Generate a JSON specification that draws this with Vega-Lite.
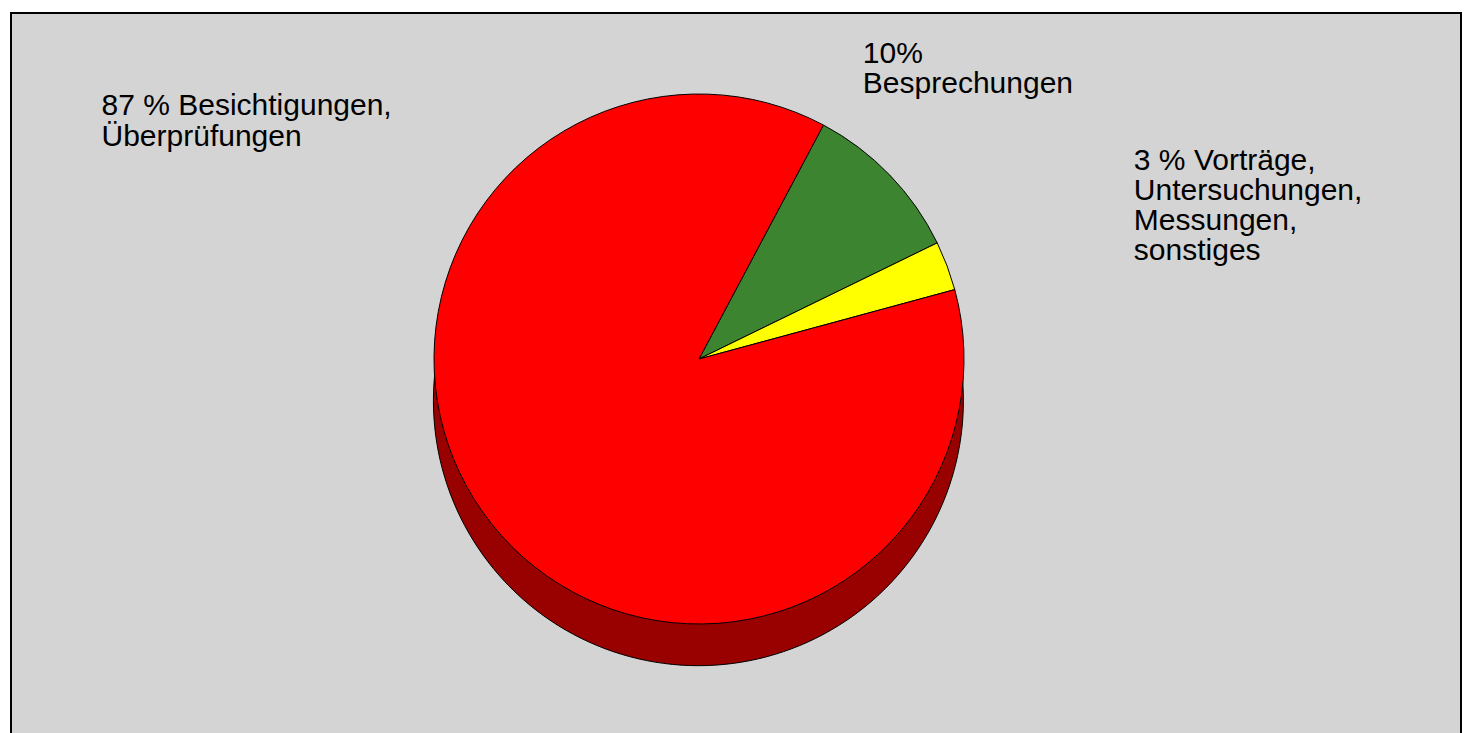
{
  "$schema": "https://vega.github.io/schema/vega-lite/v6.json",
  "width": 1450,
  "height": 721,
  "autosize": {"type": "none"},
  "padding": {"left": 11, "top": 13, "right": 11, "bottom": 0},
  "background": "white",
  "view": {"fill": "#D4D4D4", "stroke": "black", "strokeWidth": 2},
  "config": {
    "view": {"fill": "#D4D4D4", "stroke": "black", "strokeWidth": 2},
    "style": {"view": {"fill": "#D4D4D4", "stroke": "black", "strokeWidth": 2}},
    "text": {"font": "Liberation Sans"}
  },
  "data": {
    "values": [
      {"kategorie": "Besprechungen", "anteil": 10, "n": 1, "label": "10%\nBesprechungen"},
      {"kategorie": "Vorträge, Untersuchungen, Messungen, sonstiges", "anteil": 3, "n": 2, "label": "3 % Vorträge,\nUntersuchungen,\nMessungen,\nsonstiges"},
      {"kategorie": "Besichtigungen, Überprüfungen", "anteil": 87, "n": 3, "label": "87 % Besichtigungen,\nÜberprüfungen"}
    ]
  },
  "layer": [
    {
      "transform": [{"aggregate": [{"op": "sum", "field": "anteil", "as": "anteil"}]}],
      "mark": {"type": "arc", "radius": 265, "fill": "#990000", "stroke": "black", "strokeWidth": 1, "xOffset": -37, "yOffset": 27.5},
      "encoding": {
        "theta": {"field": "anteil", "type": "quantitative", "stack": true, "scale": {"range": [0.489, 6.772]}}
      }
    },
    {
      "mark": {"type": "arc", "radius": 265, "stroke": "black", "strokeWidth": 1, "xOffset": -37, "yOffset": -14.5},
      "encoding": {
        "theta": {"field": "anteil", "type": "quantitative", "stack": true},
        "order": {"field": "n", "type": "quantitative"},
        "color": {
          "field": "kategorie",
          "type": "nominal",
          "scale": {
            "domain": ["Besprechungen", "Vorträge, Untersuchungen, Messungen, sonstiges", "Besichtigungen, Überprüfungen"],
            "range": ["#3C8430", "#FFFF00", "#FF0000"]
          },
          "legend": null
        }
      }
    },
    {
      "mark": {"type": "text", "radius": 300, "align": "left", "baseline": "alphabetic", "fontSize": 30, "lineHeight": 30, "lineBreak": "\n", "color": "black", "xOffset": -37, "yOffset": -14.5, "dx": -52, "dy": -88},
      "encoding": {
        "theta": {"field": "anteil", "type": "quantitative", "stack": true},
        "order": {"field": "n", "type": "quantitative"},
        "text": {"condition": {"test": "datum.n == 1", "field": "label"}, "value": ""}
      }
    },
    {
      "mark": {"type": "text", "radius": 300, "align": "left", "baseline": "alphabetic", "fontSize": 30, "lineHeight": 30, "lineBreak": "\n", "color": "black", "xOffset": -37, "yOffset": -14.5, "dx": 154, "dy": -84},
      "encoding": {
        "theta": {"field": "anteil", "type": "quantitative", "stack": true},
        "order": {"field": "n", "type": "quantitative"},
        "text": {"condition": {"test": "datum.n == 2", "field": "label"}, "value": ""}
      }
    },
    {
      "mark": {"type": "text", "radius": 300, "align": "left", "baseline": "alphabetic", "fontSize": 30, "lineHeight": 31, "lineBreak": "\n", "color": "black", "xOffset": -37, "yOffset": -14.5, "dx": -363, "dy": -431},
      "encoding": {
        "theta": {"field": "anteil", "type": "quantitative", "stack": true},
        "order": {"field": "n", "type": "quantitative"},
        "text": {"condition": {"test": "datum.n == 3", "field": "label"}, "value": ""}
      }
    }
  ]
}
